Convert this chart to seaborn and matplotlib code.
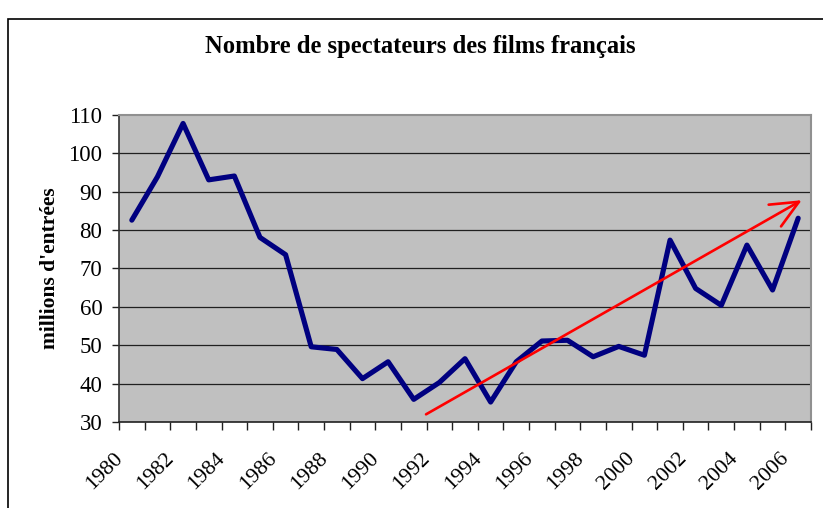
import numpy as np
import matplotlib
matplotlib.use("Agg")
import matplotlib.pyplot as plt
import matplotlib.transforms as mtransforms
from matplotlib.patches import Rectangle
import seaborn as sns

# data
years = list(range(1980, 2007))
spectateurs = [82.6, 93.9, 107.8, 93.1, 94.1, 78.1, 73.6, 49.6, 48.9, 41.3,
               45.7, 35.9, 40.3, 46.5, 35.2, 45.7, 51.1, 51.3, 47.0, 49.7,
               47.4, 77.4, 64.8, 60.4, 76.1, 64.4, 83.1]
year_labels = [str(y) for y in years[::2]]
y_ticks = [30, 40, 50, 60, 70, 80, 90, 100, 110]

# hand-drawn trend arrow (start, end) in data units
trend_start = (1991.48, 32.0)
trend_end = (2006.14, 87.8)

title = "Nombre de spectateurs des films français"
ylabel = "millions d'entrées"

sns.set_theme(style="white")
plt.rcParams["font.family"] = ["Liberation Serif", "DejaVu Serif"]
for k in ["text.color", "axes.labelcolor", "xtick.color", "ytick.color"]:
    plt.rcParams[k] = "black"

df = {"annee": years, "spectateurs": spectateurs}

fig = plt.figure(figsize=(8.23, 5.08), dpi=100)
ax = fig.add_axes([119 / 823, 1 - 422 / 508, 692 / 823, 307 / 508])
ax.set_facecolor("#C0C0C0")

for v in y_ticks[1:-1]:
    ax.axhline(v, color="#202020", lw=0.9, zorder=1)

sns.lineplot(x="annee", y="spectateurs", data=df, ax=ax, color="#000080",
             linewidth=3.7, zorder=3)

ax.annotate("", xy=trend_end, xytext=trend_start,
            arrowprops=dict(arrowstyle="->,head_length=1.0,head_width=0.45",
                            color="#FF0000", lw=1.9, mutation_scale=20,
                            shrinkA=0, shrinkB=0),
            zorder=4)

ax.set_xlim(years[0] - 0.5, years[-1] + 0.5)
ax.set_ylim(30, 110)
ax.set_yticks(y_ticks)
ax.set_yticklabels([str(v) for v in y_ticks], fontsize=16.5)
ax.tick_params(axis="y", direction="out", length=5, width=1, pad=7,
               left=True, color="#202020")

# major ticks on category boundaries, labels on every second category
ax.set_xticks(np.arange(years[0] - 0.5, years[-1] + 1, 1.0))
ax.set_xticklabels([])
ax.tick_params(axis="x", which="major", direction="out", length=5.5, width=1,
               bottom=True, color="#202020")
ax.set_xticks(years[::2], minor=True)
ax.set_xticklabels(year_labels, minor=True, fontsize=15.8)
ax.tick_params(axis="x", which="minor", length=0, pad=24)
offset = mtransforms.ScaledTranslation(-12 / 100, 0, fig.dpi_scale_trans)
for lab in ax.get_xticklabels(minor=True):
    lab.set_rotation(45)
    lab.set_rotation_mode("anchor")
    lab.set_ha("right")
    lab.set_va("center")
    lab.set_transform(lab.get_transform() + offset)

ax.set_xlabel("")
ax.set_ylabel(ylabel, fontsize=15.5, fontweight="bold", labelpad=6)

for side in ["top", "right"]:
    ax.spines[side].set_color("#909090")
    ax.spines[side].set_linewidth(1.5)
ax.spines["left"].set_color("#303030")
ax.spines["bottom"].set_color("#202020")
ax.spines["left"].set_linewidth(1.2)
ax.spines["bottom"].set_linewidth(1.2)

fig.text(420 / 823, 1 - 46 / 508, title, ha="center", va="center",
         fontsize=17.7, fontweight="bold")

fig.add_artist(Rectangle((8 / 823, -0.1), 1.2, 1.1 - 19 / 508,
                         transform=fig.transFigure, fill=False,
                         edgecolor="black", lw=1.2))

fig.savefig("out.png", dpi=100)
